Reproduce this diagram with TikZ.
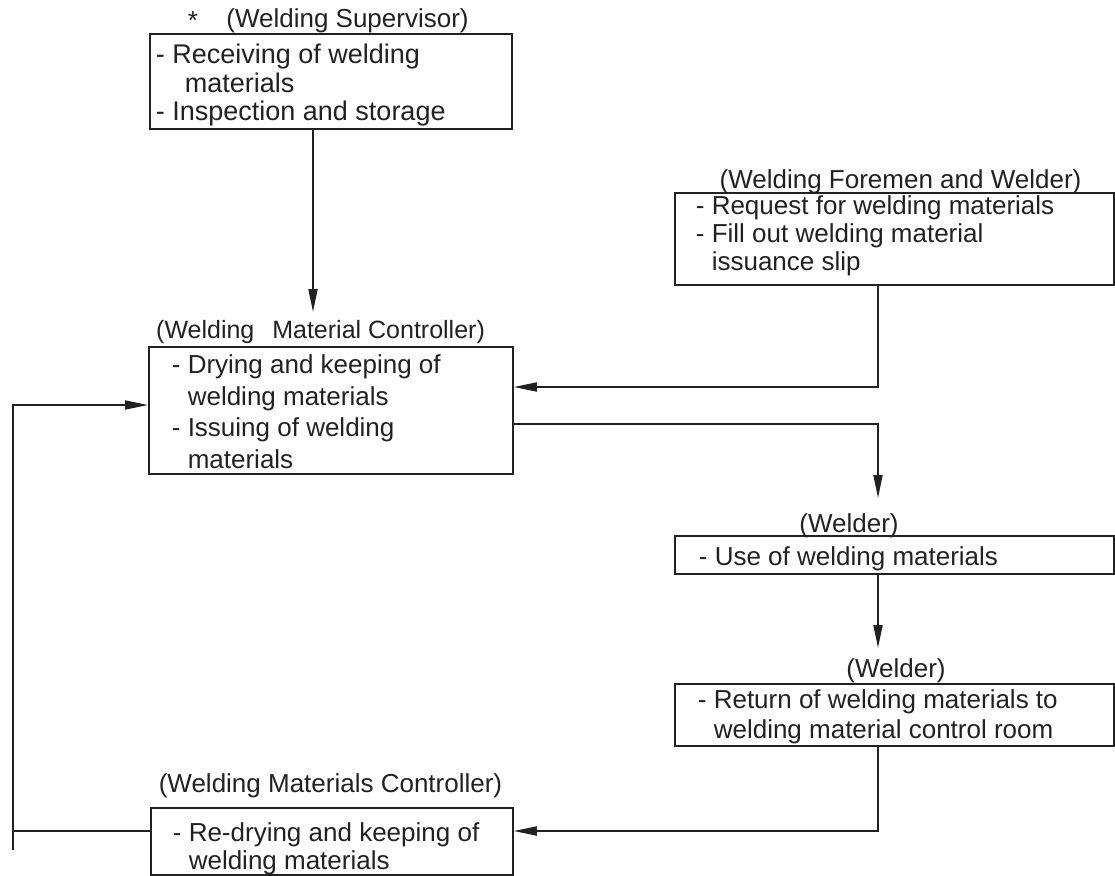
\documentclass[tikz,border=0pt]{standalone}
\usepackage{fontspec}
\setmainfont{Liberation Sans}
\usetikzlibrary{arrows.meta}
\definecolor{ink}{gray}{0.13}
\newcommand\btext[6]{\parbox[c][#1][t]{#2}{\fontsize{#6}{#4}\selectfont\rule{0pt}{#3}#5}}
\begin{document}
\begin{tikzpicture}[x=1pt,y=-1pt,
  every node/.style={text=ink, font=\fontsize{26pt}{28.5pt}\selectfont},
  box/.style={draw=ink, line width=1.8pt, rectangle, anchor=north west, inner ysep=0pt},
  lab/.style={anchor=base, inner sep=0pt},
  ln/.style={draw=ink, line width=1.8pt},
  arr/.style={ln, -{Triangle[length=23pt,width=9pt]}}]
\useasboundingbox (0,0) rectangle (1115,875);

% boxes
\node[box, inner xsep=6pt] (sup) at (149,33)
  {\btext{95pt}{350pt}{30pt}{28.5pt}{- Receiving of welding\\\hspace*{29pt}materials\\- Inspection and storage}{27pt}};
\node[box, inner xsep=21pt] (req) at (674,192)
  {\btext{92pt}{397pt}{22pt}{28pt}{- Request for welding materials\\- Fill out welding material\\\hphantom{- }issuance slip}{26pt}};
\node[box, inner xsep=23pt] (ctrl) at (148,346)
  {\btext{127pt}{318pt}{27pt}{31.5pt}{- Drying and keeping of\\\hphantom{- }welding materials\\- Issuing of welding\\\hphantom{- }materials}{26pt}};
\node[box, inner xsep=24pt] (use) at (674,535)
  {\btext{38pt}{391pt}{30pt}{28pt}{- Use of welding materials}{26pt}};
\node[box, inner xsep=23pt] (ret) at (674,683)
  {\btext{62pt}{393pt}{25pt}{30pt}{- Return of welding materials to\\\hphantom{- }welding material control room}{26pt}};
\node[box, inner xsep=22pt] (redry) at (150,807)
  {\btext{67pt}{318pt}{34pt}{27.5pt}{- Re-drying and keeping of\\\hphantom{- }welding materials}{26pt}};

% labels
\node[lab] (star) at (193,30) {*};
\node[lab] (supl) at (347.5,28) {(Welding Supervisor)};
\node[lab] (reql) at (900.5,188) {(Welding Foremen and Welder)};
\node[lab, anchor=base west, font=\fontsize{25pt}{28pt}\selectfont] (ctrll) at (156,338) {(Welding\hspace{11pt} Material Controller)};
\node[lab] (usel) at (849,532) {(Welder)};
\node[lab] (retl) at (896,677) {(Welder)};
\node[lab] (redryl) at (330.5,792) {(Welding Materials Controller)};

% connectors
\coordinate (a1) at (313,312);
\draw[arr] (sup.south -| a1) -- (a1);
\coordinate (c1) at (878,387);
\draw[arr] (req.south -| c1) -- (c1) -- (ctrl.east |- c1);
\coordinate (c2) at (878,424);
\coordinate (a2) at (878,498);
\draw[arr] (ctrl.east |- c2) -- (c2) -- (a2);
\coordinate (a3) at (878,648);
\draw[arr] (use.south -| a3) -- (a3);
\coordinate (c3) at (878,831);
\draw[arr] (ret.south -| c3) -- (c3) -- (redry.east |- c3);
\coordinate (c4) at (13,831);
\coordinate (c5) at (13,850);
\coordinate (c6) at (13,405);
\draw[ln] (redry.west |- c4) -- (c4);
\draw[arr] (c5) -- (c6) -- (ctrl.west |- c6);
\end{tikzpicture}
\end{document}
